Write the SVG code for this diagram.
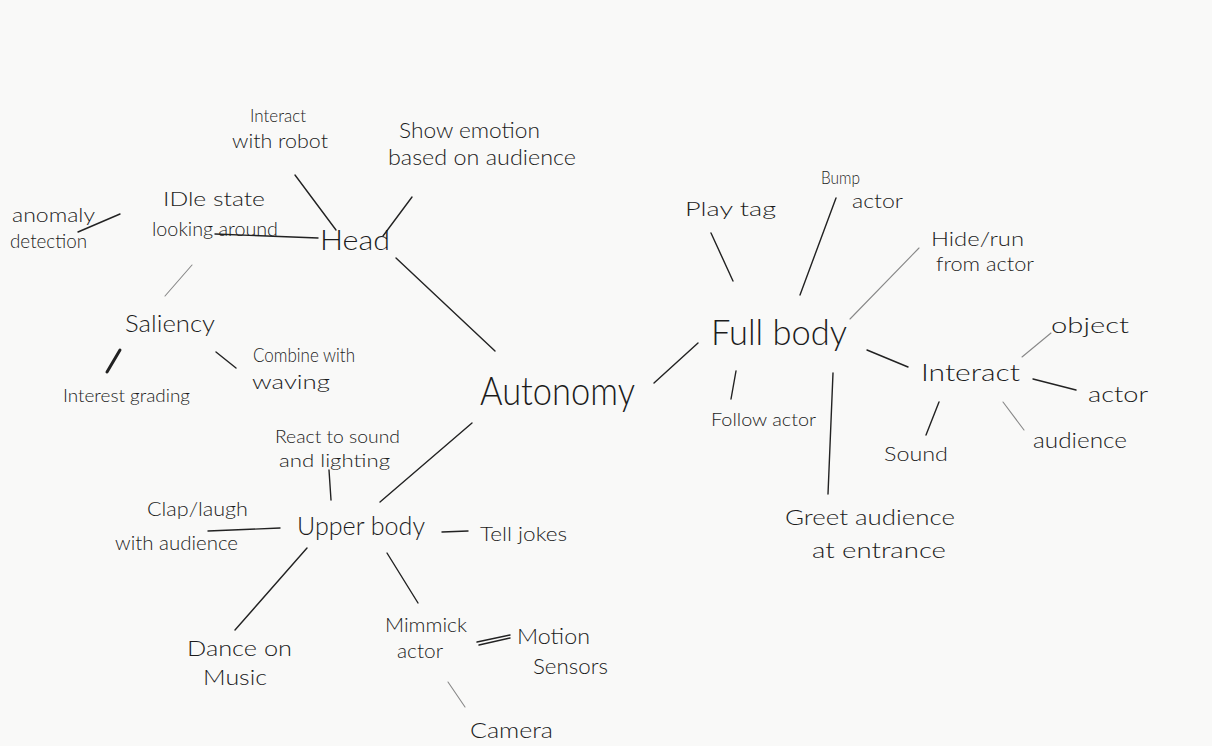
<svg xmlns="http://www.w3.org/2000/svg" width="1212" height="746" viewBox="0 0 1212 746">
<style>
text{font-family:Lato,"Open Sans","Liberation Sans",sans-serif;font-weight:300;fill:#1c1c1c}
.c line{stroke:#222;stroke-width:1.4;stroke-linecap:round}
.c .lt{stroke:#888;stroke-width:1.1}
.c .tk{stroke-width:3}
</style>
<rect width="1212" height="746" fill="#f9f9f8"/>
<g class="c" id="connectors">
<line x1="295" y1="175" x2="336" y2="230"/>
<line x1="412" y1="197" x2="383" y2="236"/>
<line x1="215" y1="234" x2="318" y2="238"/>
<line x1="78" y1="232" x2="120" y2="214"/>
<line x1="396" y1="258" x2="495" y2="351"/>
<line class="lt" x1="192" y1="265" x2="165" y2="296"/>
<line class="tk" x1="120" y1="350" x2="107" y2="372"/>
<line x1="216" y1="352" x2="236" y2="368"/>
<line x1="654" y1="383" x2="698" y2="343"/>
<line x1="472" y1="423" x2="380" y2="502"/>
<line x1="329" y1="470" x2="331" y2="500"/>
<line x1="208" y1="531" x2="280" y2="528"/>
<line x1="442" y1="532" x2="468" y2="531"/>
<line x1="307" y1="548" x2="235" y2="630"/>
<line x1="387" y1="553" x2="418" y2="603"/>
<line x1="477" y1="642" x2="510" y2="635"/>
<line x1="479" y1="645" x2="510" y2="638"/>
<line class="lt" x1="448" y1="682" x2="465" y2="707"/>
<line x1="711" y1="233" x2="733" y2="281"/>
<line x1="836" y1="198" x2="800" y2="295"/>
<line class="lt" x1="919" y1="248" x2="850" y2="319"/>
<line class="lt" x1="1022" y1="357" x2="1051" y2="333"/>
<line x1="867" y1="350" x2="908" y2="367"/>
<line x1="1033" y1="379" x2="1076" y2="390"/>
<line class="lt" x1="1003" y1="402" x2="1024" y2="430"/>
<line x1="939" y1="402" x2="926" y2="435"/>
<line x1="736" y1="371" x2="731" y2="399"/>
<line x1="833" y1="373" x2="828" y2="494"/>
</g>
<g id="autonomy"><text x="480" y="405" font-size="40" textLength="155" lengthAdjust="spacingAndGlyphs">Autonomy</text></g>
<g id="head"><text x="320" y="250" font-size="28" textLength="70" lengthAdjust="spacingAndGlyphs">Head</text></g>
<g id="interact-robot"><text x="250" y="122" font-size="17" textLength="56" lengthAdjust="spacingAndGlyphs">Interact</text><text x="232" y="148" font-size="20" textLength="96" lengthAdjust="spacingAndGlyphs">with robot</text></g>
<g id="show-emotion"><text x="399" y="138" font-size="21" textLength="141" lengthAdjust="spacingAndGlyphs">Show emotion</text><text x="388" y="165" font-size="21" textLength="188" lengthAdjust="spacingAndGlyphs">based on audience</text></g>
<g id="idle"><text x="163" y="206" font-size="19" textLength="102" lengthAdjust="spacingAndGlyphs">IDle state</text><text x="152" y="236" font-size="19" textLength="126" lengthAdjust="spacingAndGlyphs">looking around</text></g>
<g id="anomaly"><text x="12" y="222" font-size="19" textLength="83" lengthAdjust="spacingAndGlyphs">anomaly</text><text x="10" y="248" font-size="19" textLength="77" lengthAdjust="spacingAndGlyphs">detection</text></g>
<g id="saliency"><text x="125" y="332" font-size="24" textLength="90" lengthAdjust="spacingAndGlyphs">Saliency</text></g>
<g id="interest"><text x="63" y="402" font-size="18" textLength="127" lengthAdjust="spacingAndGlyphs">Interest grading</text></g>
<g id="combine"><text x="253" y="362" font-size="19" textLength="102" lengthAdjust="spacingAndGlyphs">Combine with</text><text x="252" y="389" font-size="19" textLength="78" lengthAdjust="spacingAndGlyphs">waving</text></g>
<g id="react"><text x="275" y="443" font-size="18" textLength="125" lengthAdjust="spacingAndGlyphs">React to sound</text><text x="279" y="467" font-size="18" textLength="111" lengthAdjust="spacingAndGlyphs">and lighting</text></g>
<g id="upper-body"><text x="297" y="535" font-size="26" textLength="128" lengthAdjust="spacingAndGlyphs">Upper body</text></g>
<g id="clap"><text x="147" y="516" font-size="19" textLength="101" lengthAdjust="spacingAndGlyphs">Clap/laugh</text><text x="115" y="550" font-size="19" textLength="123" lengthAdjust="spacingAndGlyphs">with audience</text></g>
<g id="jokes"><text x="480" y="541" font-size="20" textLength="87" lengthAdjust="spacingAndGlyphs">Tell jokes</text></g>
<g id="dance"><text x="187" y="656" font-size="21" textLength="105" lengthAdjust="spacingAndGlyphs">Dance on</text><text x="203" y="685" font-size="21" textLength="64" lengthAdjust="spacingAndGlyphs">Music</text></g>
<g id="mimmick"><text x="385" y="632" font-size="19" textLength="82" lengthAdjust="spacingAndGlyphs">Mimmick</text><text x="397" y="658" font-size="19" textLength="46" lengthAdjust="spacingAndGlyphs">actor</text></g>
<g id="motion"><text x="517" y="644" font-size="21" textLength="73" lengthAdjust="spacingAndGlyphs">Motion</text><text x="533" y="674" font-size="21" textLength="75" lengthAdjust="spacingAndGlyphs">Sensors</text></g>
<g id="camera"><text x="470" y="738" font-size="22" textLength="83" lengthAdjust="spacingAndGlyphs">Camera</text></g>
<g id="full-body"><text x="711" y="345" font-size="36" textLength="136" lengthAdjust="spacingAndGlyphs">Full body</text></g>
<g id="play-tag"><text x="685" y="216" font-size="20" textLength="91" lengthAdjust="spacingAndGlyphs">Play tag</text></g>
<g id="bump"><text x="821" y="184" font-size="17" textLength="39" lengthAdjust="spacingAndGlyphs">Bump</text><text x="852" y="208" font-size="19" textLength="51" lengthAdjust="spacingAndGlyphs">actor</text></g>
<g id="hide"><text x="931" y="246" font-size="20" textLength="93" lengthAdjust="spacingAndGlyphs">Hide/run</text><text x="936" y="271" font-size="19" textLength="98" lengthAdjust="spacingAndGlyphs">from actor</text></g>
<g id="interact"><text x="921" y="381" font-size="23" textLength="99" lengthAdjust="spacingAndGlyphs">Interact</text></g>
<g id="object"><text x="1051" y="333" font-size="22" textLength="78" lengthAdjust="spacingAndGlyphs">object</text></g>
<g id="actor"><text x="1088" y="402" font-size="22" textLength="60" lengthAdjust="spacingAndGlyphs">actor</text></g>
<g id="audience"><text x="1033" y="448" font-size="21" textLength="94" lengthAdjust="spacingAndGlyphs">audience</text></g>
<g id="sound"><text x="884" y="461" font-size="20" textLength="64" lengthAdjust="spacingAndGlyphs">Sound</text></g>
<g id="follow"><text x="711" y="426" font-size="17" textLength="105" lengthAdjust="spacingAndGlyphs">Follow actor</text></g>
<g id="greet"><text x="785" y="525" font-size="21" textLength="170" lengthAdjust="spacingAndGlyphs">Greet audience</text><text x="812" y="558" font-size="21" textLength="134" lengthAdjust="spacingAndGlyphs">at entrance</text></g>
</svg>
